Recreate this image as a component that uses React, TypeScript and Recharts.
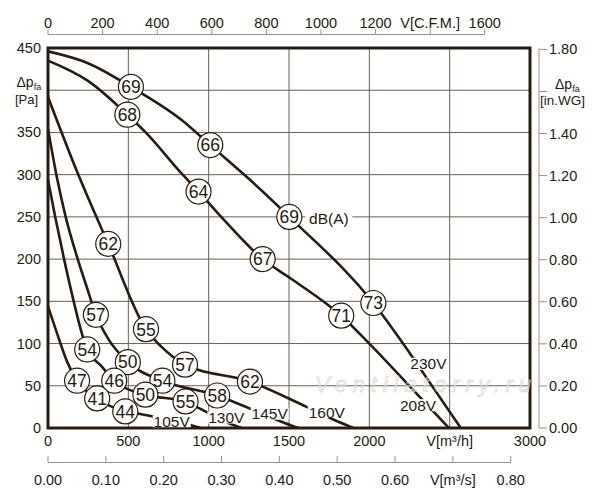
import {
  ComposedChart,
  Line,
  Scatter,
  XAxis,
  YAxis,
  CartesianGrid,
  ReferenceArea,
} from "recharts";

// page geometry of the plot frame
const CHART_W = 600;
const CHART_H = 500;
const PLOT_LEFT = 48;
const PLOT_TOP = 48;
const PLOT_RIGHT = 530;
const PLOT_BOTTOM = 428;
const PLOT_W = PLOT_RIGHT - PLOT_LEFT;
const PLOT_H = PLOT_BOTTOM - PLOT_TOP;

const Q_MAX = 3000; // m³/h
const P_MAX = 450; // Pa
const M3H_PER_CFM = 1.699;
const PA_PER_INWG = 249.089;
const CFM_MAX = Q_MAX / M3H_PER_CFM;
const M3S_MAX = Q_MAX / 3600;
const INWG_MAX = P_MAX / PA_PER_INWG;

const PX_PER_CFM = PLOT_W / CFM_MAX;
const PX_PER_M3S = PLOT_W / M3S_MAX;
const PX_PER_INWG = PLOT_H / INWG_MAX;

const INK = "#2a1b10";
const TEXT = "#241a12";
const GRID = "#6b5e53";
const SUB_AXIS = "#9a918a";
const FONT = "'Liberation Sans', Arial, Helvetica, sans-serif";

// axis ticks
const flowTicks = [0, 500, 1000, 1500, 2000, 2500, 3000];
const pressureTicks = [0, 50, 100, 150, 200, 250, 300, 350, 400, 450];
const cfmTicks = [0, 200, 400, 600, 800, 1000, 1200, 1400, 1600];
const m3sTicks = [0, 0.1, 0.2, 0.3, 0.4, 0.5, 0.6, 0.7, 0.8];
const inwgTicks = [0, 0.2, 0.4, 0.6, 0.8, 1.0, 1.2, 1.4, 1.6, 1.8];

// fan curves: q = m³/h, p = Pa
const curve230V = [
  { q: 0, p: 446 }, { q: 249, p: 432 }, { q: 516, p: 404 }, { q: 830, p: 365 },
  { q: 1010, p: 335 }, { q: 1245, p: 296 }, { q: 1502, p: 250 }, { q: 2025, p: 148 },
  { q: 2210, p: 100 }, { q: 2336, p: 65 }, { q: 2569, p: 0 },
];
const curve208V = [
  { q: 0, p: 435 }, { q: 249, p: 411 }, { q: 494, p: 371 }, { q: 608, p: 350 },
  { q: 838, p: 300 }, { q: 937, p: 280 }, { q: 1078, p: 250 }, { q: 1336, p: 200 },
  { q: 1527, p: 175 }, { q: 1825, p: 133 }, { q: 2000, p: 100 }, { q: 2249, p: 50 },
  { q: 2495, p: 0 },
];
const curve160V = [
  { q: 0, p: 392 }, { q: 180, p: 304 }, { q: 375, p: 218 }, { q: 610, p: 117 },
  { q: 707, p: 96 }, { q: 853, p: 75 }, { q: 1257, p: 55 }, { q: 1610, p: 25 },
  { q: 1776, p: 10 }, { q: 1900, p: 0 },
];
const curve145V = [
  { q: 0, p: 354 }, { q: 52, p: 300 }, { q: 110, p: 250 }, { q: 185, p: 200 },
  { q: 241, p: 167 }, { q: 298, p: 134 }, { q: 380, p: 104 }, { q: 497, p: 78 },
  { q: 712, p: 56 }, { q: 1053, p: 38.5 }, { q: 1257, p: 23 }, { q: 1444, p: 8 },
  { q: 1558, p: 0 },
];
const curve130V = [
  { q: 0, p: 294 }, { q: 45, p: 250 }, { q: 100, p: 200 }, { q: 160, p: 150 },
  { q: 205, p: 116 }, { q: 244, p: 93 }, { q: 334, p: 73 }, { q: 412, p: 56 },
  { q: 606, p: 39.5 }, { q: 856, p: 31.5 }, { q: 925, p: 25 }, { q: 1133, p: 5 },
  { q: 1205, p: 0 },
];
const curve105V = [
  { q: 0, p: 144 }, { q: 60, p: 110 }, { q: 120, p: 78 }, { q: 181, p: 56 },
  { q: 306, p: 35 }, { q: 481, p: 19.6 }, { q: 573, p: 16.6 }, { q: 884, p: 3.5 },
  { q: 950, p: 0 },
];

// sound level marks dB(A) on each curve
const sound230V = [
  { q: 516, p: 404, db: 69 }, { q: 1010, p: 335, db: 66 },
  { q: 1502, p: 250, db: 69 }, { q: 2025, p: 148, db: 73 },
];
const sound208V = [
  { q: 494, p: 371, db: 68 }, { q: 937, p: 280, db: 64 },
  { q: 1336, p: 200, db: 67 }, { q: 1825, p: 133, db: 71 },
];
const sound160V = [
  { q: 375, p: 218, db: 62 }, { q: 610, p: 117, db: 55 },
  { q: 853, p: 75, db: 57 }, { q: 1257, p: 55, db: 62 },
];
const sound145V = [
  { q: 298, p: 134, db: 57 }, { q: 497, p: 78, db: 50 },
  { q: 712, p: 56, db: 54 }, { q: 1053, p: 38.5, db: 58 },
];
const sound130V = [
  { q: 244, p: 93, db: 54 }, { q: 412, p: 56, db: 46 },
  { q: 606, p: 39.5, db: 50 }, { q: 856, p: 31.5, db: 55 },
];
const sound105V = [
  { q: 181, p: 56, db: 47 }, { q: 306, p: 35, db: 41 }, { q: 481, p: 19.6, db: 44 },
];

// curve name tags
const voltageTags = [
  { q: 2368, p: 76, text: "230V" },
  { q: 2303, p: 27, text: "208V" },
  { q: 1735, p: 19, text: "160V" },
  { q: 1380, p: 17, text: "145V" },
  { q: 1110, p: 12.4, text: "130V" },
  { q: 770, p: 8, text: "105V" },
];
const unitTags = [{ q: 1748, p: 248, text: "dB(A)" }];

// ends of the secondary scales, to give those axes something to measure
const cfmSpan = [{ q: 0, p: 0 }, { q: CFM_MAX, p: INWG_MAX }];
const m3sSpan = [{ q: 0, p: 0 }, { q: M3S_MAX, p: P_MAX }];

const curves = [curve230V, curve208V, curve160V, curve145V, curve130V, curve105V];
const soundMarks = [...sound230V, ...sound208V, ...sound160V, ...sound145V, ...sound130V, ...sound105V];

function FlowTick({ x, payload }: any) {
  const v = payload.value;
  return (
    <text x={x} y={PLOT_BOTTOM + 18} textAnchor="middle" fontSize={14.5} fill={TEXT} fontFamily={FONT}>
      {v === 2500 ? "V[m³/h]" : v}
    </text>
  );
}

function PressureTick({ y, payload }: any) {
  if (payload.value === 400) return <g />;
  return (
    <text x={PLOT_LEFT - 7} y={y + 5} textAnchor="end" fontSize={14.5} fill={TEXT} fontFamily={FONT}>
      {payload.value}
    </text>
  );
}

const INWG_X = PLOT_RIGHT + 9;
function InwgTick({ y, payload }: any) {
  const v = payload.value;
  return (
    <g>
      {v === 0 && <line x1={INWG_X} y1={y} x2={INWG_X} y2={y - 1.8 * PX_PER_INWG - 1} stroke={SUB_AXIS} />}
      <line x1={INWG_X} y1={y} x2={INWG_X + 8} y2={y} stroke={SUB_AXIS} />
      {Math.abs(v - 1.6) > 0.01 && (
        <text x={INWG_X + 10} y={y + 5} fontSize={14.5} fill={TEXT} fontFamily={FONT}>
          {v.toFixed(2)}
        </text>
      )}
    </g>
  );
}

const CFM_Y = 34.5;
function CfmTick({ x, payload }: any) {
  const v = payload.value;
  return (
    <g>
      {v === 0 && <line x1={x} y1={CFM_Y} x2={x + 1600 * PX_PER_CFM} y2={CFM_Y} stroke={SUB_AXIS} />}
      <line x1={x} y1={CFM_Y} x2={x} y2={CFM_Y - 5.5} stroke={SUB_AXIS} />
      <text x={x} y={27.5} textAnchor="middle" fontSize={14.5} fill={TEXT} fontFamily={FONT}>
        {v === 1400 ? "V[C.F.M.]" : v}
      </text>
    </g>
  );
}

const M3S_Y = 462.5;
function M3sTick({ x, payload }: any) {
  const v = payload.value;
  return (
    <g>
      {v === 0 && <line x1={x} y1={M3S_Y} x2={x + 0.8 * PX_PER_M3S} y2={M3S_Y} stroke={SUB_AXIS} />}
      <line x1={x} y1={M3S_Y} x2={x} y2={M3S_Y - 6.5} stroke={SUB_AXIS} />
      <text x={x} y={484.5} textAnchor="middle" fontSize={14.5} fill={TEXT} fontFamily={FONT}>
        {Math.abs(v - 0.7) < 0.01 ? "V[m³/s]" : v.toFixed(2)}
      </text>
    </g>
  );
}

function SoundBubble({ cx, cy, payload }: any) {
  return (
    <g>
      <circle cx={cx} cy={cy} r={12.5} fill="#fff" stroke={INK} strokeWidth={1.2} />
      <text x={cx} y={cy + 6.3} textAnchor="middle" fontSize={17.5} fill={TEXT} fontFamily={FONT}>
        {payload.db}
      </text>
    </g>
  );
}

function TagLabel({ cx, cy, payload }: any) {
  const w = payload.text.length * 9 + 2;
  return (
    <g>
      <rect x={cx - w / 2} y={cy - 6} width={w} height={12} fill="#fff" />
      <text x={cx} y={cy + 5.6} textAnchor="middle" fontSize={15.5} fill={TEXT} fontFamily={FONT}>
        {payload.text}
      </text>
    </g>
  );
}

export default function App() {
  return (
    <div style={{ position: "absolute", left: 0, top: 0, width: CHART_W, height: CHART_H, background: "#fff", fontFamily: FONT }}>
      <ComposedChart width={CHART_W} height={CHART_H} margin={{ top: 0, right: 0, bottom: 0, left: 0 }}>
        <CartesianGrid stroke={GRID} strokeWidth={1} />
        <XAxis
          type="number"
          dataKey="q"
          domain={[0, Q_MAX]}
          ticks={flowTicks}
          allowDataOverflow
          height={24}
          axisLine={false}
          tickLine={false}
          tick={<FlowTick />}
        />
        <XAxis
          xAxisId="m3s"
          type="number"
          dataKey="q"
          domain={[0, M3S_MAX]}
          ticks={m3sTicks}
          allowDataOverflow
          interval={0}
          height={48}
          axisLine={false}
          tickLine={false}
          tick={<M3sTick />}
        />
        <XAxis
          xAxisId="cfm"
          orientation="top"
          type="number"
          dataKey="q"
          domain={[0, CFM_MAX]}
          ticks={cfmTicks}
          allowDataOverflow
          interval={0}
          height={48}
          axisLine={false}
          tickLine={false}
          tick={<CfmTick />}
        />
        <YAxis
          type="number"
          dataKey="p"
          domain={[0, P_MAX]}
          ticks={pressureTicks}
          allowDataOverflow
          interval={0}
          width={48}
          axisLine={false}
          tickLine={false}
          tick={<PressureTick />}
        />
        <YAxis
          yAxisId="inwg"
          orientation="right"
          type="number"
          dataKey="p"
          domain={[0, INWG_MAX]}
          ticks={inwgTicks}
          allowDataOverflow
          interval={0}
          width={70}
          axisLine={false}
          tickLine={false}
          tick={<InwgTick />}
        />
        <ReferenceArea x1={0} x2={Q_MAX} y1={0} y2={P_MAX} fill="none" stroke={INK} strokeWidth={3} />
        <Line
          xAxisId="cfm"
          yAxisId="inwg"
          data={cfmSpan}
          dataKey="p"
          stroke="none"
          dot={false}
          activeDot={false}
          isAnimationActive={false}
        />
        <Line
          xAxisId="m3s"
          data={m3sSpan}
          dataKey="p"
          stroke="none"
          dot={false}
          activeDot={false}
          isAnimationActive={false}
        />
        {curves.map((c, i) => (
          <Line
            key={i}
            data={c}
            dataKey="p"
            type="monotone"
            stroke={INK}
            strokeWidth={2.6}
            dot={false}
            activeDot={false}
            isAnimationActive={false}
          />
        ))}
        <Scatter data={voltageTags} shape={<TagLabel />} isAnimationActive={false} />
        <Scatter data={unitTags} shape={<TagLabel />} isAnimationActive={false} />
        <Scatter data={soundMarks} shape={<SoundBubble />} isAnimationActive={false} />
      </ComposedChart>
      <svg
        width={CHART_W}
        height={CHART_H}
        style={{ position: "absolute", left: 0, top: 0, pointerEvents: "none" }}
      >
        <text x={16.5} y={87} fontSize={14} fill={TEXT} fontFamily={FONT}>
          Δp<tspan fontSize={9} dy={3}>fa</tspan>
        </text>
        <text x={15} y={104} fontSize={13} fill={TEXT} fontFamily={FONT}>[Pa]</text>
        <text x={555} y={89} fontSize={14} fill={TEXT} fontFamily={FONT}>
          Δp<tspan fontSize={9} dy={3}>fa</tspan>
        </text>
        <text x={540} y={104.5} fontSize={13.5} fill={TEXT} fontFamily={FONT}>[in.WG]</text>
        <text
          x={423}
          y={392}
          textAnchor="middle"
          fontSize={22}
          fontStyle="italic"
          fontFamily={FONT}
          textLength={216}
          fill="#f2f0ee"
          fillOpacity={0.55}
          stroke="#cbc5bf"
          strokeOpacity={0.6}
          strokeWidth={0.8}
        >
          Ventilatorry.ru
        </text>
      </svg>
    </div>
  );
}
